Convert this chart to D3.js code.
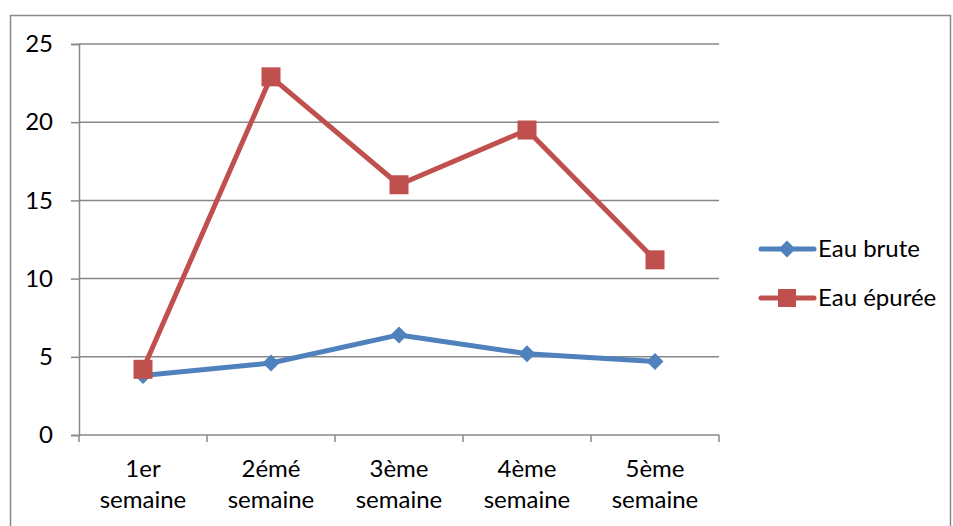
<!DOCTYPE html>
<html>
<head>
<meta charset="utf-8">
<script src="https://cdn.jsdelivr.net/npm/d3@7/dist/d3.min.js"></script>
<style>
  html, body { margin: 0; padding: 0; background: #fff; }
  svg { display: block; font-family: Lato, "Open Sans", sans-serif; }
</style>
</head>
<body>
<svg id="chart" width="953" height="526"></svg>
<script>
// Weekly measurements
const categories = [["1er", "semaine"], ["2émé", "semaine"], ["3ème", "semaine"], ["4ème", "semaine"], ["5ème", "semaine"]];
const eauBrute = [3.8, 4.6, 6.4, 5.2, 4.7];
const eauEpuree = [4.2, 22.9, 16.0, 19.5, 11.2];
const yTicks = [0, 5, 10, 15, 20, 25];
const seriesNames = ["Eau brute", "Eau épurée"];
const seriesColors = ["#4F81BD", "#C0504D"];

const svg = d3.select("#chart");
const plot = { left: 79, right: 719, top: 44, bottom: 435 };
const fontSize = 24;

// Chart frame
svg.append("rect")
  .attr("x", 10.5).attr("y", 15.5)
  .attr("width", 940).attr("height", 520)
  .attr("fill", "none").attr("stroke", "#888").attr("stroke-width", 1.5);

const x = d3.scaleBand()
  .domain(d3.range(categories.length))
  .range([plot.left, plot.right])
  .padding(0);

const y = d3.scaleLinear().domain([0, 25]).range([plot.bottom, plot.top]);

// Horizontal gridlines
svg.append("g")
  .selectAll("line")
  .data(yTicks.filter(t => t > 0))
  .join("line")
  .attr("x1", plot.left).attr("x2", plot.right)
  .attr("y1", d => y(d)).attr("y2", d => y(d))
  .attr("stroke", "#888").attr("stroke-width", 1.5);

// Y axis
const yAxis = svg.append("g")
  .attr("transform", `translate(${plot.left},0)`)
  .call(d3.axisLeft(y).tickValues(yTicks).tickSize(8).tickPadding(18));
yAxis.select(".domain").attr("stroke", "#888").attr("stroke-width", 1.5);
yAxis.selectAll(".tick line").attr("stroke", "#888").attr("stroke-width", 1.5);
yAxis.selectAll(".tick text")
  .attr("font-size", fontSize).attr("fill", "#000")
  .attr("font-family", "Lato, sans-serif");

// X axis with tick marks at category boundaries
const xAxisG = svg.append("g");
xAxisG.append("line")
  .attr("x1", plot.left).attr("x2", plot.right)
  .attr("y1", plot.bottom).attr("y2", plot.bottom)
  .attr("stroke", "#888").attr("stroke-width", 1.5);
const boundaries = d3.range(categories.length + 1).map(i => i < categories.length ? x(i) : x(i - 1) + x.bandwidth());
xAxisG.selectAll("line.tk")
  .data(boundaries)
  .join("line")
  .attr("class", "tk")
  .attr("x1", d => d).attr("x2", d => d)
  .attr("y1", plot.bottom).attr("y2", plot.bottom + 7)
  .attr("stroke", "#888").attr("stroke-width", 1.5);

const labels = xAxisG.selectAll("text.cat")
  .data(categories)
  .join("text")
  .attr("class", "cat")
  .attr("text-anchor", "middle")
  .attr("font-size", fontSize)
  .attr("fill", "#000");
labels.selectAll("tspan")
  .data((d, i) => d.map(s => ({ s, i })))
  .join("tspan")
  .attr("x", d => x(d.i) + x.bandwidth() / 2)
  .attr("y", (d, j) => 477 + j * 31)
  .text(d => d.s);

const cx = i => x(i) + x.bandwidth() / 2;
const line = d3.line().x((d, i) => cx(i)).y(d => y(d));

// Eau brute: blue line with diamonds
svg.append("path")
  .datum(eauBrute)
  .attr("d", line)
  .attr("fill", "none").attr("stroke", seriesColors[0])
  .attr("stroke-width", 5).attr("stroke-linejoin", "round");
const diamond = s => `M0,${-s}L${s},0L0,${s}L${-s},0Z`;
svg.append("g").selectAll("path")
  .data(eauBrute)
  .join("path")
  .attr("transform", (d, i) => `translate(${cx(i)},${y(d)})`)
  .attr("d", diamond(8.5))
  .attr("fill", seriesColors[0]);

// Eau épurée: red line with squares
svg.append("path")
  .datum(eauEpuree)
  .attr("d", line)
  .attr("fill", "none").attr("stroke", seriesColors[1])
  .attr("stroke-width", 5).attr("stroke-linejoin", "round");
svg.append("g").selectAll("rect")
  .data(eauEpuree)
  .join("rect")
  .attr("x", (d, i) => cx(i) - 9.5)
  .attr("y", d => y(d) - 9.5)
  .attr("width", 19).attr("height", 19)
  .attr("fill", seriesColors[1]);

// Legend
const legend = svg.append("g");
seriesNames.forEach((name, k) => {
  const ly = 249 + k * 49;
  legend.append("line")
    .attr("x1", 761).attr("x2", 814)
    .attr("y1", ly).attr("y2", ly)
    .attr("stroke", seriesColors[k]).attr("stroke-width", 5)
    .attr("stroke-linecap", "round");
  if (k === 0) {
    legend.append("path")
      .attr("transform", `translate(787,${ly})`)
      .attr("d", diamond(8.5))
      .attr("fill", seriesColors[k]);
  } else {
    legend.append("rect")
      .attr("x", 778).attr("y", ly - 9)
      .attr("width", 18).attr("height", 18)
      .attr("fill", seriesColors[k]);
  }
  legend.append("text")
    .attr("x", 818).attr("y", ly + 8)
    .attr("font-size", fontSize).attr("fill", "#000")
    .text(name);
});
</script>
</body>
</html>
